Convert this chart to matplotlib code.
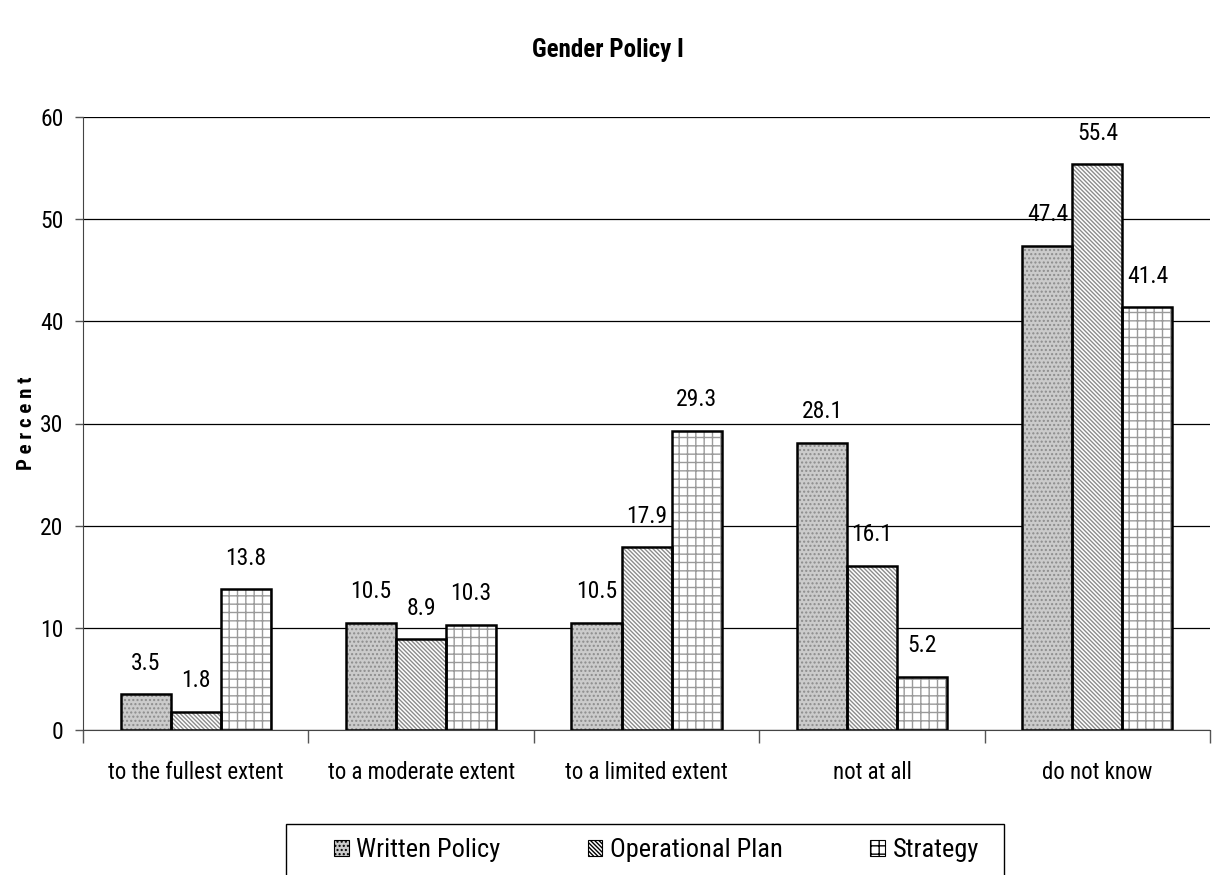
import matplotlib
matplotlib.use("Agg")
import matplotlib.pyplot as plt
from matplotlib.patches import Rectangle
import numpy as np

plt.rcParams['font.family'] = ['Roboto Condensed', 'Liberation Sans', 'DejaVu Sans']
plt.rcParams['hatch.linewidth'] = 1.0

categories = ["to the fullest extent", "to a moderate extent", "to a limited extent",
              "not at all", "do not know"]
series_names = ["Written Policy", "Operational Plan", "Strategy"]
written_policy = [3.5, 10.5, 10.5, 28.1, 47.4]
operational_plan = [1.8, 8.9, 17.9, 16.1, 55.4]
strategy = [13.8, 10.3, 29.3, 5.2, 41.4]
y_ticks = [0, 10, 20, 30, 40, 50, 60]

W, H = 1215, 875
fig = plt.figure(figsize=(W / 100, H / 100), dpi=100)
ax = fig.add_axes([0.0683, 0.1657, 0.9277, 0.7006])

x = np.arange(len(categories))
w = 0.222
styles = [
    dict(facecolor="#cbcbcb", hatch="....", hcolor="#8c8c8c"),
    dict(facecolor="white", hatch="\\" * 8, hcolor="#8c8c8c"),
    dict(facecolor="white", hatch="++", hcolor="#9a9a9a"),
]
series = [written_policy, operational_plan, strategy]
for i, (vals, st, name) in enumerate(zip(series, styles, series_names)):
    pos = x + (i - 1) * w
    ax.bar(pos, vals, w, facecolor=st["facecolor"], hatch=st["hatch"],
           edgecolor=st["hcolor"], linewidth=0, label=name, zorder=3)
    ax.bar(pos, vals, w, facecolor="none", edgecolor="black", linewidth=1.8, zorder=4)
    for p, v in zip(pos, vals):
        ax.annotate(f"{v}", (p, v), xytext=(0, 14), textcoords="offset points",
                    ha="center", va="bottom", fontsize=17)

ax.set_xlim(-0.5, len(categories) - 0.5)
ax.set_ylim(0, 60)
ax.set_yticks(y_ticks)
ax.set_yticklabels([str(t) for t in y_ticks], fontsize=17)
ax.yaxis.grid(True, color="black", linewidth=0.9, zorder=0)
ax.set_axisbelow(True)

ax.set_xticks(x)
ax.set_xticklabels(categories, fontsize=16.5)
ax.tick_params(axis="x", length=0, pad=22)
ax.set_xticks(np.arange(len(categories) + 1) - 0.5, minor=True)
ax.tick_params(axis="x", which="minor", length=9, color="#555555", width=1)
ax.tick_params(axis="y", length=6, color="#555555", width=1, pad=8)

for s in ["top", "right"]:
    ax.spines[s].set_visible(False)
ax.spines["left"].set_color("#444444")
ax.spines["bottom"].set_color("#444444")

ax.set_ylabel("P e r c e n t", fontsize=15, fontweight="bold", labelpad=3)
fig.suptitle("Gender Policy I", fontsize=18, fontweight="bold", y=0.957)

# legend entries without their own frame, boxed by a separate rectangle
leg = fig.legend(loc="center left", bbox_to_anchor=(334 / W, 1 - 850 / H), ncol=3,
                 fontsize=19, frameon=False,
                 handlelength=0.55, handleheight=0.55, handletextpad=0.3,
                 columnspacing=3.3, borderpad=0, borderaxespad=0)
for h in leg.legend_handles:
    h.set_edgecolor("black")
    h.set_linewidth(0.8)
fig.add_artist(Rectangle((286 / W, -0.01), (1004 - 286) / W, (H - 824) / H + 0.01,
                         transform=fig.transFigure, facecolor="none",
                         edgecolor="black", linewidth=1.0, clip_on=False))

fig.savefig("out.png", dpi=100)
